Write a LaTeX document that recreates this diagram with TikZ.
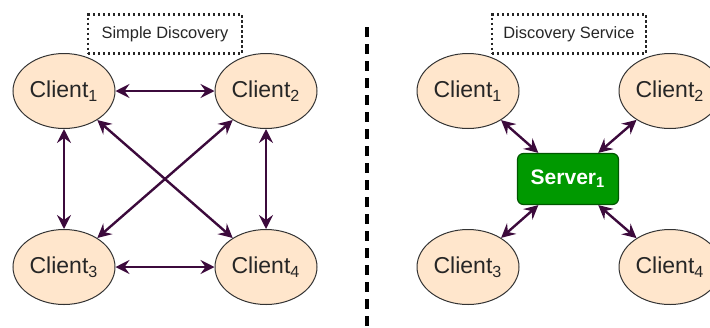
\documentclass[tikz,border=0pt]{standalone}
\usepackage{fontspec}
\setmainfont{Liberation Sans}
\usetikzlibrary{shapes.geometric,arrows.meta}
\definecolor{peach}{RGB}{255,230,204}
\definecolor{arr}{RGB}{60,10,60}
\definecolor{srv}{RGB}{0,153,0}
\definecolor{srvline}{RGB}{0,87,0}

\begin{document}
\begin{tikzpicture}[x=0.5pt,y=-0.5pt,
  client/.style={ellipse,draw=black!80,fill=peach,line width=0.5pt,minimum width=51pt,minimum height=37.5pt,inner sep=0pt,text=black!85,font=\fontsize{11.5}{13}\selectfont},
  server/.style={rectangle,rounded corners=3pt,draw=srvline,fill=srv,line width=0.6pt,minimum width=50.5pt,minimum height=25.5pt,inner sep=0pt,text=white,font=\fontsize{10.5}{12}\selectfont\bfseries},
  title/.style={draw=black!85,line width=1.1pt,dash pattern=on 1.1pt off 1.4pt,minimum width=77pt,minimum height=19.5pt,inner sep=0pt,text=black!85,font=\fontsize{8.2}{10}\selectfont},
  link/.style={arr,line width=1.2pt,{Stealth[length=7pt,width=7pt,inset=2.5pt]}-{Stealth[length=7pt,width=7pt,inset=2.5pt]}}]
\useasboundingbox (0,0) rectangle (710,327);

\node[title] (simple) at (165,34) {Simple Discovery};
\node[client] (a1) at (64,91) {Client\textsubscript{1}};
\node[client] (a2) at (266,91) {Client\textsubscript{2}};
\node[client] (a3) at (64,267) {Client\textsubscript{3}};
\node[client] (a4) at (266,267) {Client\textsubscript{4}};
\draw[link] (a1) -- (a2);
\draw[link] (a3) -- (a4);
\draw[link] (a1) -- (a3);
\draw[link] (a2) -- (a4);
\draw[link] (a1) -- (a4);
\draw[link] (a2) -- (a3);

\coordinate (sepTop) at (367,27);
\coordinate (sepBot) at (367,327);
\draw[black,line width=1.6pt,dash pattern=on 5pt off 3.5pt] (sepTop) -- (sepBot);

\node[title] (service) at (569,34) {Discovery Service};
\node[server] (s1) at (568,179) {Server\textsubscript{1}};
\node[client] (b1) at (468,91) {Client\textsubscript{1}};
\node[client] (b2) at (670,91) {Client\textsubscript{2}};
\node[client] (b3) at (468,267) {Client\textsubscript{3}};
\node[client] (b4) at (670,267) {Client\textsubscript{4}};
\draw[link] (b1) -- (s1);
\draw[link] (b2) -- (s1);
\draw[link] (b3) -- (s1);
\draw[link] (b4) -- (s1);
\end{tikzpicture}
\end{document}
